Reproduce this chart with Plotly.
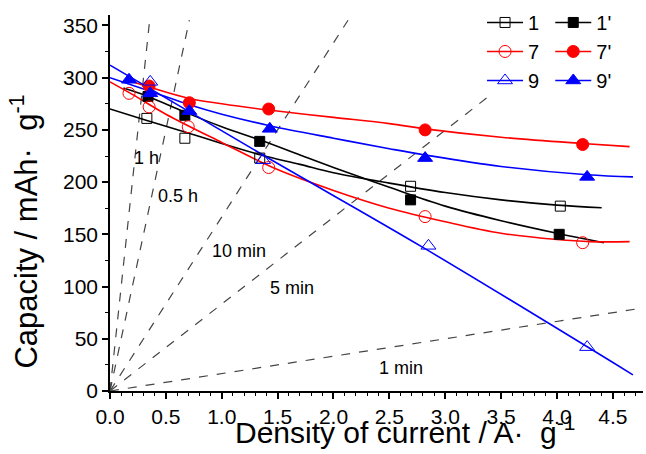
import plotly.graph_objects as go

# ---- measured points ----
x_1 = [0.33, 0.67, 1.34, 2.69, 4.03]
y_1 = [261, 242, 223, 196, 177]
x_1p = [0.34, 0.67, 1.34, 2.69, 4.02]
y_1p = [282, 264, 239, 183, 150]
x_7 = [0.17, 0.35, 0.70, 1.42, 2.82, 4.23]
y_7 = [285, 272, 253, 214, 167, 142]
x_7p = [0.35, 0.71, 1.42, 2.82, 4.23]
y_7p = [292, 276, 270, 250, 236]
x_9 = [0.36, 1.37, 2.85, 4.27]
y_9 = [296, 221, 139, 42]
x_9p = [0.17, 0.36, 0.71, 1.43, 2.82, 4.27]
y_9p = [298, 285, 268, 251, 223, 205]

# ---- fitted curves ----
cx_1 = [0, 0.33, 0.67, 1.0, 1.35, 1.7, 2.0, 2.5, 3.0, 3.5, 4.0, 4.4]
cy_1 = [270, 259, 248, 237, 226, 217, 209, 199, 190, 183, 178, 175.5]
cx_1p = [0.12, 0.34, 0.67, 1.0, 1.35, 1.7, 2.0, 2.5, 3.0, 3.5, 4.0, 4.42]
cy_1p = [290, 282, 267, 253, 240, 226, 214, 195, 177, 163, 151, 142]
cx_7 = [0, 0.2, 0.5, 1.0, 1.5, 2.0, 2.5, 3.0, 3.5, 4.0, 4.3, 4.65]
cy_7 = [296, 284, 265, 238, 212, 192, 175, 162, 151, 145, 143, 143]
cx_7p = [0.17, 0.35, 0.71, 1.0, 1.42, 2.0, 2.5, 2.82, 3.5, 4.23, 4.65]
cy_7p = [297, 291, 280, 275, 269, 262, 256, 251, 243, 237, 234]
cx_9 = [0, 1.4, 2.8, 4.68]
cy_9 = [312, 224, 137.5, 15.5]
cx_9p = [0, 0.36, 0.71, 1.0, 1.43, 2.0, 2.5, 2.82, 3.5, 4.27, 4.68]
cy_9p = [300, 287, 274, 265, 254, 242, 232, 226, 215, 207, 205]

# ---- constant-time reference lines (from origin) ----
ref_labels = ["1 h", "0.5 h", "10 min", "5 min", "1 min"]
ref_end_x = [0.355, 0.71, 2.13, 3.40, 4.77]
ref_end_y = [355, 355, 355, 283, 79.5]
ref_label_x = [0.33, 0.61, 1.15, 1.63, 2.60]
ref_label_y = [223, 187, 134, 99, 22]

x_title = "Density of current / A·&nbsp; g<sup>-1</sup>"
y_title = "Capacity / mAh·&nbsp; g<sup>-1</sup>"

fig = go.Figure()

for ex, ey in zip(ref_end_x, ref_end_y):
    fig.add_trace(go.Scatter(x=[0, ex], y=[0, ey], mode="lines",
                             line=dict(color="#444444", width=1.2, dash="dash"),
                             showlegend=False, hoverinfo="skip"))

series = [
    ("1", x_1, y_1, cx_1, cy_1, "black", "square-open", 10, "legend"),
    ("1'", x_1p, y_1p, cx_1p, cy_1p, "black", "square", 10, "legend2"),
    ("7", x_7, y_7, cx_7, cy_7, "red", "circle-open", 12, "legend"),
    ("7'", x_7p, y_7p, cx_7p, cy_7p, "red", "circle", 12, "legend2"),
    ("9", x_9, y_9, cx_9, cy_9, "blue", "triangle-up-open", 13, "legend"),
    ("9'", x_9p, y_9p, cx_9p, cy_9p, "blue", "triangle-up", 13, "legend2"),
]

for name, xs, ys, cxs, cys, col, sym, sz, leg in series:
    fig.add_trace(go.Scatter(x=cxs, y=cys, mode="lines", line=dict(color=col, width=1.6, shape="spline"),
                             showlegend=False, hoverinfo="skip"))
for name, xs, ys, cxs, cys, col, sym, sz, leg in series:
    fig.add_trace(go.Scatter(x=xs, y=ys, mode="markers",
                             marker=dict(symbol=sym, size=sz, color=col, line=dict(color=col, width=1)),
                             showlegend=False))
for name, xs, ys, cxs, cys, col, sym, sz, leg in series:
    fig.add_trace(go.Scatter(x=[None], y=[None], mode="lines+markers", name=name,
                             line=dict(color=col, width=1.6),
                             marker=dict(symbol=sym, size=sz, color=col, line=dict(color=col, width=1)),
                             legend=leg))

for lab, lx, ly in zip(ref_labels, ref_label_x, ref_label_y):
    fig.add_annotation(x=lx, y=ly, text=lab, showarrow=False,
                       font=dict(size=18, color="black"))

# axis titles
fig.add_annotation(xref="paper", yref="paper", x=0.553, y=-0.16, xanchor="center", yanchor="bottom",
                   text=x_title, showarrow=False, font=dict(size=30, color="black"))
fig.add_annotation(xref="paper", yref="paper", x=-0.162, y=0.423, xanchor="center", yanchor="middle",
                   text=y_title, textangle=-90, showarrow=False, font=dict(size=31, color="black"))

axis_common = dict(showline=True, linecolor="black", linewidth=1.5, ticks="outside",
                   tickcolor="black", tickwidth=1.5, ticklen=6, showgrid=False, zeroline=False,
                   tickfont=dict(size=21, color="black"))

fig.update_layout(
    width=646, height=454,
    margin=dict(l=110, r=3, t=15, b=63, autoexpand=False),
    paper_bgcolor="white", plot_bgcolor="white",
    font=dict(family="Arial, Liberation Sans, sans-serif", color="black"),
    xaxis=dict(range=[0, 4.77], dtick=0.5, tickformat=".1f",
               minor=dict(dtick=0.1, ticks="outside", ticklen=3, tickcolor="black", tickwidth=1),
               **axis_common),
    yaxis=dict(range=[0, 360], dtick=50,
               minor=dict(dtick=25, ticks="outside", ticklen=3, tickcolor="black", tickwidth=1),
               **axis_common),
    legend=dict(x=0.698, y=1.032, xanchor="left", yanchor="top", bgcolor="rgba(0,0,0,0)",
                font=dict(size=20), tracegroupgap=0, itemwidth=36),
    legend2=dict(x=0.826, y=1.032, xanchor="left", yanchor="top", bgcolor="rgba(0,0,0,0)",
                 font=dict(size=20), tracegroupgap=0, itemwidth=36),
)

fig.write_html("out.html")
